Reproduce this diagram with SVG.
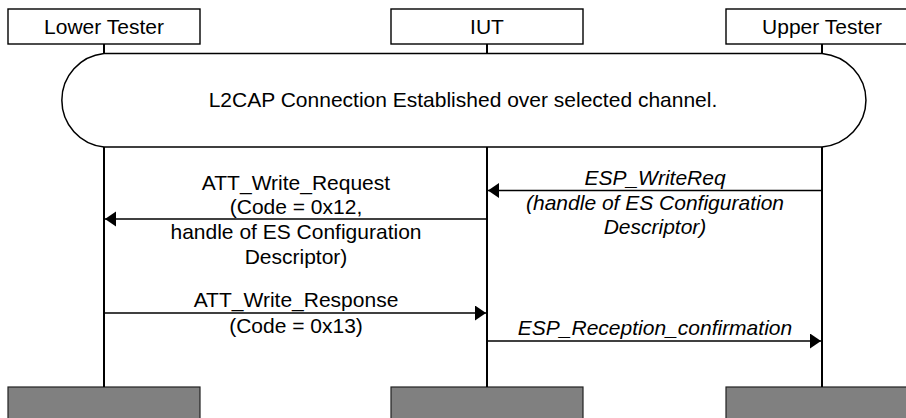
<svg xmlns="http://www.w3.org/2000/svg" width="906" height="418" viewBox="0 0 906 418">
<style>
text{font-family:"Liberation Sans",Arial,sans-serif;font-size:21px;fill:#000;text-anchor:middle}
.it{font-style:italic}
.hdr{fill:#fff;stroke:#000;stroke-width:1.4}
.ftr{fill:#808080;stroke:#222;stroke-width:1.2}
.life{stroke:#000;stroke-width:2;fill:none}
.msg{stroke:#000;stroke-width:1.6;fill:none;marker-end:url(#ah)}
</style>
<defs>
<marker id="ah" markerUnits="userSpaceOnUse" markerWidth="12" markerHeight="16" refX="11" refY="7.5" orient="auto">
<path d="M0,0 L11,7.5 L0,15 Z" fill="#000"/>
</marker>
</defs>
<g id="lower-tester">
<rect class="hdr" x="8" y="9" width="192" height="35"/>
<text x="104" y="34">Lower Tester</text>
<rect class="ftr" x="8" y="387" width="192" height="40"/>
</g>
<g id="iut">
<rect class="hdr" x="391" y="9" width="192" height="35"/>
<text x="487" y="34">IUT</text>
<rect class="ftr" x="391" y="387" width="192" height="40"/>
</g>
<g id="upper-tester">
<rect class="hdr" x="726" y="9" width="192" height="35"/>
<text x="822" y="34">Upper Tester</text>
<rect class="ftr" x="726" y="387" width="192" height="40"/>
</g>
<g id="lifelines">
<path class="life" d="M104,44 V53 M487,44 V53 M822,44 V53 M104,147 V387 M487,147 V387 M822,147 V387"/>
</g>
<g id="l2cap">
<path d="M104,53.5 H822 A49,47 0 0 1 822,147 H104 A47,47 0 0 1 104,53.5 Z" fill="#fff" stroke="#000" stroke-width="1.5"/>
<text x="463" y="107">L2CAP Connection Established over selected channel.</text>
</g>
<g id="connectors">
<line class="msg" x1="822" y1="190.5" x2="488" y2="190.5"/>
<line class="msg" x1="487" y1="219" x2="105" y2="219"/>
<line class="msg" x1="104" y1="313" x2="486" y2="313"/>
<line class="msg" x1="487" y1="341" x2="821" y2="341"/>
</g>
<g id="labels">
<text class="it" x="655" y="185">ESP_WriteReq</text>
<text class="it" x="655" y="210">(handle of ES Configuration</text>
<text class="it" x="655" y="234">Descriptor)</text>
<text x="296" y="190">ATT_Write_Request</text>
<text x="296" y="214">(Code = 0x12,</text>
<text x="296" y="239">handle of ES Configuration</text>
<text x="296" y="264">Descriptor)</text>
<text x="296" y="307">ATT_Write_Response</text>
<text x="296" y="333">(Code = 0x13)</text>
<text class="it" x="655" y="335">ESP_Reception_confirmation</text>
</g>
</svg>
